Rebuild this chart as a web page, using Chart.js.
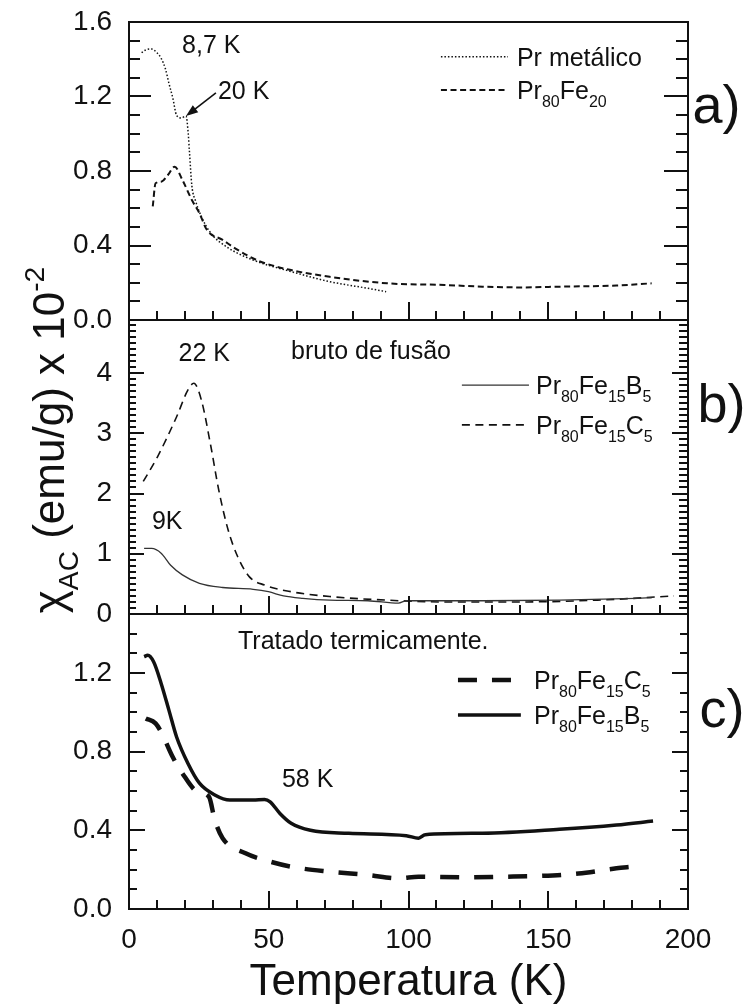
<!DOCTYPE html>
<html>
<head>
<meta charset="utf-8">
<script src="https://cdn.jsdelivr.net/npm/chart.js@4.4.1/dist/chart.umd.min.js"></script>
<style>
  html, body { margin: 0; padding: 0; background: #fff; }
  #wrap { position: relative; width: 747px; height: 1005px; }
</style>
</head>
<body>
<div id="wrap"><canvas id="chi-chart"></canvas></div>
<script>
// temperature (K) / chi_AC (emu/g x 10^-2)

// a) Pr metálico and Pr80Fe20
const tPrMetal = [4.5, 6, 8.1, 10, 11.5, 13, 14.3, 15.7, 17, 18.8, 20.4, 21.2, 21.6, 22.5, 23.8, 25.9, 29.3, 34.8, 44.4, 58, 71.8, 85.5, 92];
const chiPrMetal = [1.435, 1.45, 1.455, 1.435, 1.405, 1.35, 1.27, 1.19, 1.10, 1.085, 1.095, 1.0, 0.91, 0.72, 0.64, 0.555, 0.466, 0.394, 0.322, 0.26, 0.206, 0.17, 0.152];
const tPr80Fe20 = [8.5, 9.5, 11.5, 14, 16.3, 19.1, 22.5, 25.2, 27.9, 33.5, 38.9, 47.1, 58, 71.8, 92.3, 112.8, 126.5, 140, 154, 174.4, 187];
const chiPr80Fe20 = [0.61, 0.734, 0.742, 0.78, 0.823, 0.752, 0.644, 0.573, 0.483, 0.43, 0.376, 0.313, 0.268, 0.232, 0.197, 0.188, 0.179, 0.175, 0.179, 0.185, 0.197];

// b) bruto de fusão
const tB5Cast = [5.4, 8.1, 11.5, 14.9, 19.1, 25.2, 33.5, 44.4, 49.9, 55.3, 62.2, 71.8, 85.5, 96.4, 99.2, 126.5, 154, 181.4, 187];
const chiB5Cast = [1.09, 1.09, 1.01, 0.81, 0.65, 0.51, 0.44, 0.41, 0.37, 0.30, 0.26, 0.23, 0.22, 0.18, 0.22, 0.22, 0.23, 0.26, 0.27];
const tC5Cast = [5.1, 10.2, 17, 21.1, 23.2, 25.9, 29.3, 32.1, 35.5, 38.9, 43, 48.5, 58, 71.8, 92.3, 112.8, 140, 167.6, 195];
const chiC5Cast = [2.2, 2.61, 3.27, 3.72, 3.83, 3.55, 2.78, 2.06, 1.39, 0.95, 0.62, 0.48, 0.37, 0.29, 0.23, 0.2, 0.2, 0.23, 0.3];

// c) tratado termicamente
const tC5Annealed = [6, 9.5, 11.5, 15.6, 19.1, 24.5, 28.6, 30.7, 33.5, 41.7, 48.5, 58, 71.8, 85.5, 96.4, 103.6, 119.7, 133.4, 147, 160.8, 174.4, 180];
const chiC5Annealed = [0.969, 0.944, 0.90, 0.774, 0.69, 0.596, 0.571, 0.452, 0.36, 0.283, 0.249, 0.215, 0.19, 0.173, 0.156, 0.164, 0.161, 0.164, 0.168, 0.18, 0.207, 0.215];
const tB5Annealed = [5.4, 6.7, 8.8, 11.5, 14.3, 17, 21.1, 25.2, 30.7, 36.1, 44.4, 48.5, 50.5, 54, 58, 64.9, 78.6, 99.2, 103.6, 106, 126.5, 154, 174.4, 187.5];
const chiB5Annealed = [1.283, 1.29, 1.257, 1.147, 1.01, 0.876, 0.74, 0.64, 0.58, 0.554, 0.554, 0.557, 0.545, 0.486, 0.436, 0.40, 0.385, 0.373, 0.36, 0.378, 0.385, 0.405, 0.427, 0.447];

// tick labels
const tempTicks = [0, 50, 100, 150, 200];
const ticksA = [0, 0.4, 0.8, 1.2, 1.6];
const ticksB = [0, 1, 2, 3, 4];
const ticksC = [0, 0.4, 0.8, 1.2];

const ink = '#111';
const FONT = "'Liberation Sans', Arial, Helvetica, sans-serif";
const pts = (ts, vs) => ts.map((t, i) => ({ x: t, y: vs[i] }));

// fixed axis box sizes, no extra room reserved for end labels
function fixBox(s, w, h) {
  if (w !== undefined) s.width = w;
  if (h !== undefined) s.height = h;
  s.paddingTop = s.paddingBottom = s.paddingLeft = s.paddingRight = 0;
}

function yAxis(min, max, ticks, digits, weight, stackWeight) {
  return {
    type: 'linear', position: 'left', stack: 'chi', stackWeight: stackWeight, weight: weight,
    min: min, max: max,
    afterBuildTicks: s => { s.ticks = ticks.map(v => ({ value: v })); },
    afterFit: s => fixBox(s, 129),
    grid: { display: false, drawTicks: false },
    border: { display: false },
    ticks: { color: ink, padding: 17, font: { size: 28, family: FONT }, callback: v => v.toFixed(digits) }
  };
}

function line(label, axis, data, width, dash, color) {
  return {
    label: label, yAxisID: axis, data: data,
    borderColor: color || ink, borderWidth: width, borderDash: dash,
    borderCapStyle: 'butt', pointRadius: 0, fill: false,
    cubicInterpolationMode: 'monotone'
  };
}

// minor/major tick steps and lengths (left, right) for each panel
const panelTicks = {
  ya: { minor: 0.1, major: 0.4, left: [11, 22], right: [12, 24] },
  yb: { minor: 0.1, major: 1, left: [7, 15], right: [9, 16] },
  yc: { minor: 0.1, major: 0.4, left: [8, 16], right: [8, 16] }
};

function drawRich(ctx, parts, x, y, size) {
  let cx = x;
  parts.forEach(([txt, kind]) => {
    const s = kind ? size * 0.64 : size;
    ctx.font = s + 'px ' + FONT;
    const dy = kind === 1 ? size * 0.33 : kind === 2 ? -size * 0.45 : 0;
    ctx.fillText(txt, cx, y + dy);
    cx += ctx.measureText(txt).width;
  });
  return cx - x;
}

function richWidth(ctx, parts, size) {
  let w = 0;
  parts.forEach(([txt, kind]) => {
    ctx.font = (kind ? size * 0.64 : size) + 'px ' + FONT;
    w += ctx.measureText(txt).width;
  });
  return w;
}

// frame, inward ticks on every panel
const framePlugin = {
  id: 'frame',
  afterDatasetsDraw(chart) {
    const { ctx, chartArea: area, scales } = chart;
    const x = scales.x;
    ctx.save();
    ctx.strokeStyle = ink;
    ctx.lineWidth = 2;
    ctx.strokeRect(area.left, area.top, area.right - area.left, area.bottom - area.top);
    ['ya', 'yb', 'yc'].forEach(id => {
      const s = scales[id];
      const cfg = panelTicks[id];
      const bottom = s.getPixelForValue(s.min);
      ctx.beginPath();
      ctx.moveTo(area.left, bottom);
      ctx.lineTo(area.right, bottom);
      // temperature ticks on the panel's bottom edge
      for (let t = 10; t < 200; t += 10) {
        const px = Math.round(x.getPixelForValue(t));
        const len = t % 50 === 0 ? 18 : 9;
        ctx.moveTo(px, bottom);
        ctx.lineTo(px, bottom - len);
      }
      // chi ticks on left and right edges
      for (let k = 1; k * cfg.minor < s.max - 1e-6; k++) {
        const v = k * cfg.minor;
        const q = v / cfg.major;
        const major = Math.abs(q - Math.round(q)) < 1e-6;
        const py = Math.round(s.getPixelForValue(v));
        ctx.moveTo(area.left, py);
        ctx.lineTo(area.left + cfg.left[major ? 1 : 0], py);
        ctx.moveTo(area.right, py);
        ctx.lineTo(area.right - cfg.right[major ? 1 : 0], py);
      }
      ctx.stroke();
    });
    ctx.restore();
  }
};

// text notes, legends, panel letters and y title
const notes = [
  { axis: 'ya', t: 19.0, v: 1.48, text: [['8,7 K', 0]] },
  { axis: 'ya', t: 31.8, v: 1.235, text: [['20 K', 0]] },
  { axis: 'yb', t: 17.7, v: 4.35, text: [['22 K', 0]] },
  { axis: 'yb', t: 58, v: 4.38, text: [['bruto de fusão', 0]] },
  { axis: 'yb', t: 8.2, v: 1.56, text: [['9K', 0]] },
  { axis: 'yc', t: 39, v: 1.368, text: [['Tratado termicamente.', 0]] },
  { axis: 'yc', t: 54.7, v: 0.666, text: [['58 K', 0]] }
];

const legendRows = [
  { axis: 'ya', ds: 0, t0: 111.6, t1: 135.6, tt: 138.8, v: 1.414, text: [['Pr metálico', 0]] },
  { axis: 'ya', ds: 1, t0: 111.6, t1: 135.6, tt: 138.8, v: 1.235, text: [['Pr', 0], ['80', 1], ['Fe', 0], ['20', 1]] },
  { axis: 'yb', ds: 2, t0: 119.1, t1: 143.1, tt: 145.6, v: 3.80, text: [['Pr', 0], ['80', 1], ['Fe', 0], ['15', 1], ['B', 0], ['5', 1]] },
  { axis: 'yb', ds: 3, t0: 119.1, t1: 143.1, tt: 145.6, v: 3.14, text: [['Pr', 0], ['80', 1], ['Fe', 0], ['15', 1], ['C', 0], ['5', 1]] },
  { axis: 'yc', ds: 4, t0: 117.7, t1: 140.2, tt: 144.9, v: 1.164, text: [['Pr', 0], ['80', 1], ['Fe', 0], ['15', 1], ['C', 0], ['5', 1]] },
  { axis: 'yc', ds: 5, t0: 117.7, t1: 140.2, tt: 144.9, v: 0.986, text: [['Pr', 0], ['80', 1], ['Fe', 0], ['15', 1], ['B', 0], ['5', 1]] }
];

const panelLetters = [
  { axis: 'ya', t: 201.6, v: 1.14, text: 'a)' },
  { axis: 'yb', t: 203.4, v: 3.44, text: 'b)' },
  { axis: 'yc', t: 204.1, v: 1.0, text: 'c)' }
];

const annotatePlugin = {
  id: 'annotate',
  afterDraw(chart) {
    const { ctx, scales } = chart;
    const x = scales.x;
    const size = 25;
    ctx.save();
    ctx.fillStyle = ink;
    ctx.textBaseline = 'alphabetic';
    ctx.textAlign = 'left';

    notes.forEach(n => {
      const py = scales[n.axis].getPixelForValue(n.v);
      drawRich(ctx, n.text, x.getPixelForValue(n.t), py + size * 0.36, size);
    });

    // arrow pointing at the 20 K kink
    const ya = scales.ya;
    const ax0 = x.getPixelForValue(31.1), ay0 = ya.getPixelForValue(1.219);
    const ax1 = x.getPixelForValue(20.4), ay1 = ya.getPixelForValue(1.095);
    const ang = Math.atan2(ay1 - ay0, ax1 - ax0);
    ctx.strokeStyle = ink;
    ctx.lineWidth = 1.6;
    ctx.beginPath();
    ctx.moveTo(ax0, ay0);
    ctx.lineTo(ax1 - 6 * Math.cos(ang), ay1 - 6 * Math.sin(ang));
    ctx.stroke();
    ctx.beginPath();
    ctx.moveTo(ax1, ay1);
    ctx.lineTo(ax1 - 12 * Math.cos(ang) + 4.5 * Math.sin(ang), ay1 - 12 * Math.sin(ang) - 4.5 * Math.cos(ang));
    ctx.lineTo(ax1 - 12 * Math.cos(ang) - 4.5 * Math.sin(ang), ay1 - 12 * Math.sin(ang) + 4.5 * Math.cos(ang));
    ctx.closePath();
    ctx.fill();

    // legend samples use each dataset's own stroke
    legendRows.forEach(r => {
      const ds = chart.data.datasets[r.ds];
      const py = scales[r.axis].getPixelForValue(r.v);
      ctx.save();
      ctx.strokeStyle = ds.borderColor;
      ctx.lineWidth = ds.borderWidth;
      ctx.setLineDash(ds.borderDash || []);
      ctx.beginPath();
      ctx.moveTo(x.getPixelForValue(r.t0), py);
      ctx.lineTo(x.getPixelForValue(r.t1), py);
      ctx.stroke();
      ctx.restore();
      drawRich(ctx, r.text, x.getPixelForValue(r.tt), py + size * 0.36, size);
    });

    ctx.font = '54px ' + FONT;
    ctx.textBaseline = 'middle';
    panelLetters.forEach(p => {
      ctx.fillText(p.text, x.getPixelForValue(p.t), scales[p.axis].getPixelForValue(p.v));
    });

    // y title, rotated
    const title = [['χ', 0], ['AC', 1], [' (emu/g) x 10', 0], ['-2', 2]];
    const tsize = 44;
    const w = richWidth(ctx, title, tsize);
    ctx.translate(48, 440);
    ctx.rotate(-Math.PI / 2);
    ctx.textBaseline = 'alphabetic';
    drawRich(ctx, title, -w / 2, tsize * 0.36, tsize);
    ctx.restore();
  }
};

new Chart(document.getElementById('chi-chart'), {
  type: 'line',
  data: {
    datasets: [
      line('Pr metálico', 'ya', pts(tPrMetal, chiPrMetal), 1.5, [1.5, 2]),
      line('Pr80Fe20', 'ya', pts(tPr80Fe20, chiPr80Fe20), 2, [6, 3.6]),
      line('Pr80Fe15B5', 'yb', pts(tB5Cast, chiB5Cast), 1.3, [], '#333'),
      line('Pr80Fe15C5', 'yb', pts(tC5Cast, chiC5Cast), 1.6, [8, 5.5]),
      line('Pr80Fe15C5', 'yc', pts(tC5Annealed, chiC5Annealed), 4.5, [19, 15]),
      line('Pr80Fe15B5', 'yc', pts(tB5Annealed, chiB5Annealed), 3.5, [])
    ]
  },
  options: {
    responsive: true,
    maintainAspectRatio: false,
    animation: false,
    layout: { padding: { top: 22, right: 59, left: 0, bottom: 0 } },
    plugins: { legend: { display: false }, tooltip: { enabled: false } },
    scales: {
      x: {
        type: 'linear', position: 'bottom', min: 0, max: 200,
        afterBuildTicks: s => { s.ticks = tempTicks.map(v => ({ value: v })); },
        afterFit: s => fixBox(s, undefined, 96),
        grid: { display: false, drawTicks: false },
        border: { display: false },
        ticks: { color: ink, padding: 14, font: { size: 28, family: FONT }, maxRotation: 0 },
        title: { display: true, text: 'Temperatura (K)', color: ink, padding: { top: 0, bottom: 0 },
                 font: { size: 44, family: FONT, lineHeight: 1 } }
      },
      ya: yAxis(0, 1.6, ticksA, 1, 3, 298),
      yb: yAxis(0, 4.88, ticksB, 0, 2, 294),
      yc: yAxis(0, 1.5, ticksC, 1, 1, 295)
    }
  },
  plugins: [framePlugin, annotatePlugin]
});
</script>
</body>
</html>
